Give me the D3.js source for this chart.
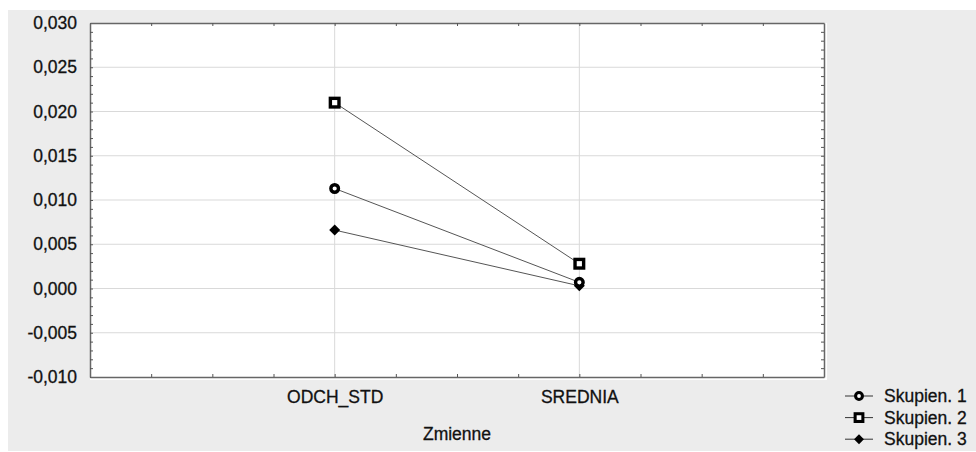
<!DOCTYPE html>
<html>
<head>
<meta charset="utf-8">
<script src="https://cdn.jsdelivr.net/npm/d3@7"></script>
<style>
  body { margin: 0; background: #fff; }
  text { font-family: "Liberation Sans", Arial, sans-serif; fill: #111; stroke: #111; stroke-width: 0.3px; }
</style>
</head>
<body>
<div id="chart-area"></div>
<script>
const categories = ['ODCH_STD', 'SREDNIA'];
const categoryPos = [4, 8];
const seriesNames = ['Skupien. 1', 'Skupien. 2', 'Skupien. 3'];
const seriesMarkers = ['circle', 'square', 'diamond'];
const skupien1 = [0.0113, 0.0007];
const skupien2 = [0.0210, 0.0028];
const skupien3 = [0.0066, 0.0003];
const yMajorTicks = [-0.010, -0.005, 0.000, 0.005, 0.010, 0.015, 0.020, 0.025, 0.030];
const seriesValues = [skupien1, skupien2, skupien3];

const W = 976, H = 452;
const margin = {left: 90, right: 152, top: 23, bottom: 75};
const width = W - margin.left - margin.right;
const height = H - margin.top - margin.bottom;
const fontSize = '17.5px';

const locale = d3.formatLocale({decimal: ',', thousands: ' ', grouping: [3], currency: ['', ''], minus: '-'});
const fmt = locale.format('.3f');

const svg = d3.select('#chart-area').append('svg')
  .attr('width', W)
  .attr('height', H);

svg.append('rect')
  .attr('x', 8).attr('y', 10)
  .attr('width', W - 8).attr('height', H - 11)
  .attr('fill', '#ececec');

const canvas = svg.append('g')
  .attr('transform', `translate(${margin.left}, ${margin.top})`);

canvas.append('rect')
  .attr('width', width + 3)
  .attr('height', height + 3)
  .attr('fill', '#fff');

const x = d3.scaleLinear().domain([0, 12]).range([0, width]);
const y = d3.scaleLinear().domain([-0.010, 0.030]).range([height, 0]);

// grid
canvas.append('g').selectAll('line')
  .data(yMajorTicks.slice(1, -1))
  .join('line')
  .attr('x1', 0).attr('x2', width)
  .attr('y1', d => y(d)).attr('y2', d => y(d))
  .attr('stroke', '#d9d9d9');

canvas.append('g').selectAll('line')
  .data(categoryPos)
  .join('line')
  .attr('x1', d => x(d)).attr('x2', d => x(d))
  .attr('y1', 0).attr('y2', height)
  .attr('stroke', '#d9d9d9');

// axes
const minorY = d3.range(-10, 31).map(d => d / 1000);
const xTicks = d3.range(1, 12);

function styleAxis(g) {
  g.select('.domain').attr('stroke', '#666').attr('stroke-width', 1.5);
  g.selectAll('.tick line').attr('stroke', '#555');
}

canvas.append('g')
  .call(d3.axisLeft(y).tickValues(minorY).tickSize(-3).tickFormat('').tickSizeOuter(0))
  .call(styleAxis);
canvas.append('g')
  .attr('transform', `translate(${width}, 0)`)
  .call(d3.axisRight(y).tickValues(minorY).tickSize(-3).tickFormat('').tickSizeOuter(0))
  .call(styleAxis);
canvas.append('g')
  .call(d3.axisTop(x).tickValues(xTicks).tickSize(-3).tickFormat('').tickSizeOuter(0))
  .call(styleAxis);
canvas.append('g')
  .attr('transform', `translate(0, ${height})`)
  .call(d3.axisBottom(x).tickValues(xTicks).tickSize(-3).tickFormat('').tickSizeOuter(0))
  .call(styleAxis);

// y labels
const yLabels = canvas.append('g')
  .call(d3.axisLeft(y).tickValues(yMajorTicks).tickSize(0).tickPadding(13).tickFormat(fmt));
yLabels.select('.domain').remove();
yLabels.selectAll('text')
  .attr('font-size', fontSize)
  .attr('font-family', '"Liberation Sans", Arial, sans-serif')
  .attr('fill', '#111');

// x category labels
const xLabels = canvas.append('g')
  .attr('transform', `translate(0, ${height})`)
  .call(d3.axisBottom(x).tickValues(categoryPos).tickSize(0).tickPadding(14)
    .tickFormat((d, i) => categories[i]));
xLabels.select('.domain').remove();
xLabels.selectAll('text')
  .attr('font-size', fontSize)
  .attr('font-family', '"Liberation Sans", Arial, sans-serif')
  .attr('fill', '#111');

canvas.append('text')
  .attr('x', width / 2)
  .attr('y', height + 63)
  .attr('text-anchor', 'middle')
  .attr('font-size', fontSize)
  .text('Zmienne');

// markers
function drawMarker(g, type, cx, cy, s) {
  if (type === 'circle') {
    g.append('circle')
      .attr('cx', cx).attr('cy', cy).attr('r', 3.8 * s)
      .attr('fill', '#fff').attr('stroke', '#000').attr('stroke-width', 3.4 * s);
  } else if (type === 'square') {
    g.append('rect')
      .attr('x', cx - 4.3 * s).attr('y', cy - 4.3 * s)
      .attr('width', 8.6 * s).attr('height', 8.6 * s)
      .attr('fill', '#fff').attr('stroke', '#000').attr('stroke-width', 3.4 * s);
  } else {
    g.append('path')
      .attr('d', `M${cx},${cy - 5.5 * s}L${cx + 5.5 * s},${cy}L${cx},${cy + 5.5 * s}L${cx - 5.5 * s},${cy}Z`)
      .attr('fill', '#000');
  }
}

const line = d3.line()
  .x((d, i) => x(categoryPos[i]))
  .y(d => y(d));

seriesValues.forEach(vals => {
  canvas.append('path')
    .datum(vals)
    .attr('d', line)
    .attr('fill', 'none')
    .attr('stroke', '#555')
    .attr('stroke-width', 1);
});

[2, 0, 1].forEach(si => {
  const g = canvas.append('g');
  seriesValues[si].forEach((v, i) => drawMarker(g, seriesMarkers[si], x(categoryPos[i]), y(v), 1));
});

// legend
const legend = svg.append('g')
  .attr('transform', 'translate(845, 396)');

seriesNames.forEach((name, i) => {
  const row = legend.append('g')
    .attr('transform', `translate(0, ${i * 21.6})`);
  row.append('line')
    .attr('x1', 0).attr('x2', 28)
    .attr('stroke', '#333').attr('stroke-width', 1);
  drawMarker(row, seriesMarkers[i], 14, 0, 0.9);
  row.append('text')
    .attr('x', 39)
    .attr('y', 0)
    .attr('dy', '0.35em')
    .attr('font-size', fontSize)
    .text(name);
});
</script>
</body>
</html>
